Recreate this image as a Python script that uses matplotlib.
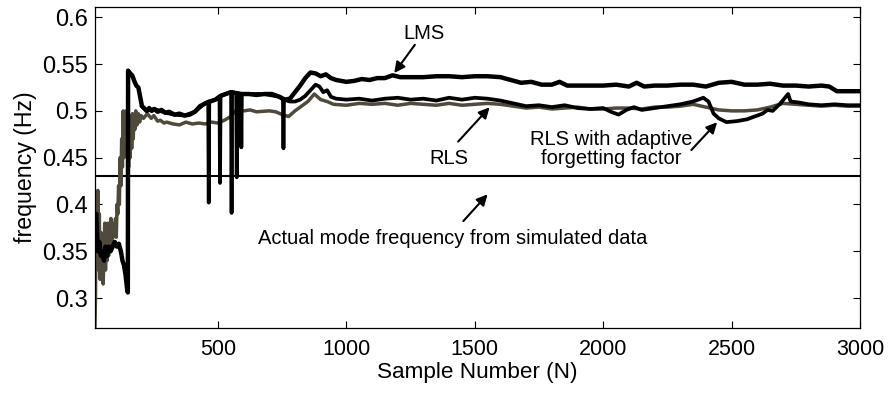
#!/usr/bin/env python3
"""Frequency estimates (LMS, RLS, RLS with adaptive forgetting) vs sample number."""

import matplotlib

matplotlib.use("Agg")
import matplotlib.pyplot as plt

plt.rcParams["font.family"] = ["Liberation Sans", "DejaVu Sans"]

# RLS estimate (grey trace)
rls_x = [21, 23, 26, 29, 32, 35, 38, 41, 44, 47, 50, 53, 56, 59, 62, 65, 68,
         71, 74, 77, 80, 83, 86, 89, 92, 95, 98, 101, 104, 107, 110, 113, 116,
         119, 122, 125, 128, 131, 134, 137, 140, 143, 146, 149, 152, 155, 158,
         161, 164, 167, 170, 173, 176, 180, 185, 190, 195, 200, 210, 225, 240,
         250, 265, 275, 290, 300, 325, 350, 375, 400, 425, 450, 475, 500, 525,
         550, 575, 600, 625, 650, 700, 725, 750, 775, 800, 825, 850, 875, 900,
         925, 950, 1000, 1050, 1100, 1150, 1200, 1250, 1300, 1350, 1400, 1450,
         1500, 1550, 1600, 1650, 1700, 1750, 1800, 1850, 1900, 1950, 2000, 2050,
         2100, 2150, 2200, 2250, 2300, 2350, 2400, 2450, 2500, 2550, 2600, 2650,
         2700, 2750, 2800, 2850, 2900, 2950, 3000]
rls_y = [0.270, 0.300, 0.410, 0.340, 0.415, 0.330, 0.390, 0.320, 0.370, 0.335,
         0.360, 0.315, 0.350, 0.380, 0.330, 0.370, 0.340, 0.380, 0.345, 0.375,
         0.355, 0.385, 0.360, 0.380, 0.365, 0.375, 0.370, 0.385, 0.365, 0.400,
         0.390, 0.420, 0.400, 0.450, 0.420, 0.470, 0.440, 0.500, 0.450, 0.490,
         0.455, 0.500, 0.460, 0.480, 0.440, 0.495, 0.450, 0.490, 0.460, 0.497,
         0.470, 0.495, 0.480, 0.500, 0.485, 0.497, 0.488, 0.495, 0.492, 0.497,
         0.492, 0.495, 0.489, 0.490, 0.487, 0.488, 0.486, 0.485, 0.488, 0.486,
         0.487, 0.486, 0.488, 0.487, 0.490, 0.494, 0.502, 0.500, 0.501, 0.499,
         0.500, 0.499, 0.496, 0.494, 0.500, 0.505, 0.510, 0.518, 0.512, 0.510,
         0.507, 0.506, 0.508, 0.507, 0.508, 0.506, 0.508, 0.507, 0.506, 0.508,
         0.506, 0.507, 0.508, 0.507, 0.505, 0.503, 0.504, 0.502, 0.503, 0.504,
         0.502, 0.502, 0.503, 0.503, 0.502, 0.504, 0.504, 0.505, 0.507, 0.504,
         0.501, 0.500, 0.500, 0.501, 0.504, 0.508, 0.507, 0.506, 0.505, 0.506,
         0.505, 0.505]

# LMS estimate (top black trace)
lms_x = [21, 26, 32, 38, 44, 50, 56, 62, 68, 75, 82, 90, 98, 106, 114, 122, 128,
         134, 140, 146, 149, 150, 158, 166, 174, 182, 190, 197, 204, 212, 222,
         232, 242, 252, 265, 280, 295, 310, 330, 350, 370, 390, 410, 430, 450,
         470, 490, 510, 530, 550, 570, 590, 620, 650, 680, 710, 740, 760, 780,
         800, 820, 840, 860, 880, 900, 920, 940, 960, 980, 1000, 1030, 1060,
         1090, 1120, 1150, 1180, 1210, 1250, 1300, 1350, 1400, 1450, 1500, 1550,
         1600, 1640, 1680, 1720, 1760, 1800, 1830, 1860, 1900, 1950, 2000, 2050,
         2100, 2130, 2160, 2200, 2250, 2300, 2350, 2400, 2450, 2500, 2550, 2600,
         2650, 2700, 2750, 2800, 2850, 2880, 2910, 2950, 3000]
lms_y = [0.385, 0.390, 0.350, 0.360, 0.345, 0.350, 0.340, 0.355, 0.345, 0.355,
         0.350, 0.355, 0.360, 0.355, 0.358, 0.350, 0.340, 0.335, 0.325, 0.310,
         0.306, 0.543, 0.540, 0.538, 0.532, 0.527, 0.525, 0.515, 0.505, 0.503,
         0.500, 0.503, 0.500, 0.502, 0.499, 0.501, 0.498, 0.499, 0.496, 0.497,
         0.495, 0.496, 0.499, 0.505, 0.508, 0.510, 0.512, 0.516, 0.518, 0.520,
         0.519, 0.518, 0.518, 0.517, 0.518, 0.518, 0.515, 0.512, 0.513, 0.520,
         0.527, 0.535, 0.541, 0.540, 0.537, 0.539, 0.535, 0.533, 0.532, 0.531,
         0.532, 0.534, 0.533, 0.535, 0.535, 0.538, 0.536, 0.536, 0.536, 0.537,
         0.537, 0.536, 0.537, 0.537, 0.536, 0.533, 0.530, 0.531, 0.528, 0.528,
         0.531, 0.527, 0.527, 0.527, 0.527, 0.528, 0.526, 0.530, 0.526, 0.527,
         0.527, 0.528, 0.528, 0.526, 0.530, 0.531, 0.528, 0.528, 0.529, 0.527,
         0.527, 0.526, 0.527, 0.526, 0.521, 0.521, 0.521]

# RLS with adaptive forgetting factor (lower black trace, with drop-outs)
arls_x = [204, 222, 252, 295, 330, 370, 410, 440, 462, 464, 466, 490, 506, 508,
          510, 530, 551, 553, 555, 571, 573, 575, 589, 591, 593, 620, 680, 740,
          753, 755, 757, 780, 800, 820, 840, 860, 880, 895, 910, 925, 940, 960,
          1000, 1050, 1100, 1150, 1200, 1250, 1300, 1350, 1400, 1450, 1500, 1550,
          1600, 1650, 1700, 1750, 1800, 1850, 1900, 1950, 2000, 2030, 2060, 2090,
          2120, 2150, 2200, 2250, 2300, 2350, 2390, 2410, 2430, 2450, 2480, 2520,
          2560, 2590, 2620, 2640, 2660, 2690, 2720, 2730, 2760, 2800, 2850, 2900,
          2950, 3000]
arls_y = [0.505, 0.500, 0.502, 0.498, 0.496, 0.495, 0.499, 0.506, 0.510, 0.402,
          0.510, 0.512, 0.515, 0.423, 0.516, 0.518, 0.520, 0.391, 0.520, 0.519,
          0.429, 0.519, 0.518, 0.461, 0.518, 0.518, 0.518, 0.515, 0.512, 0.460,
          0.512, 0.510, 0.510, 0.512, 0.516, 0.522, 0.528, 0.526, 0.520, 0.522,
          0.515, 0.513, 0.512, 0.513, 0.511, 0.513, 0.514, 0.512, 0.513, 0.511,
          0.514, 0.512, 0.514, 0.513, 0.511, 0.508, 0.505, 0.506, 0.504, 0.506,
          0.503, 0.502, 0.503, 0.499, 0.496, 0.501, 0.504, 0.501, 0.503, 0.505,
          0.507, 0.510, 0.514, 0.510, 0.497, 0.492, 0.488, 0.489, 0.491, 0.494,
          0.497, 0.501, 0.500, 0.508, 0.518, 0.510, 0.509, 0.507, 0.506, 0.507,
          0.506, 0.506]

actual_freq = 0.43

x_ticks = [500, 1000, 1500, 2000, 2500, 3000]
y_ticks = [0.3, 0.35, 0.4, 0.45, 0.5, 0.55, 0.6]
y_tick_labels = ["0.3", "0.35", "0.4", "0.45", "0.5", "0.55", "0.6"]

fig = plt.figure(figsize=(8.9, 3.94), dpi=100)
ax = fig.add_axes([0.1067, 0.1675, 0.8596, 0.8148])

ax.plot(rls_x, rls_y, color="#4f4a3c", linewidth=2.5, zorder=2)
ax.plot(arls_x, arls_y, color="black", linewidth=2.7, zorder=3)
ax.plot(lms_x, lms_y, color="black", linewidth=3.2, zorder=4)
ax.axhline(actual_freq, color="black", linewidth=1.5, zorder=1)

ax.set_xlim(21, 3000)
ax.set_ylim(0.268, 0.611)
ax.set_xticks(x_ticks)
ax.set_yticks(y_ticks, y_tick_labels)
ax.tick_params(direction="in", top=True, right=True, length=5, width=0.8)
ax.tick_params(axis="x", labelsize=15.5, pad=8)
ax.tick_params(axis="y", labelsize=17, pad=5)
for spine in ax.spines.values():
    spine.set_linewidth(0.9)

ax.set_xlabel("Sample Number (N)", fontsize=16.2, labelpad=1)
ax.set_ylabel("frequency (Hz)", fontsize=16.7, labelpad=4)

arrow = dict(arrowstyle="-|>", color="black", lw=1.5, mutation_scale=16)
ax.annotate("", xy=(1180, 0.538), xytext=(1273, 0.573), arrowprops=arrow)
ax.text(1304, 0.583, "LMS", fontsize=14.5, ha="center", va="center")

ax.annotate("", xy=(1565, 0.506), xytext=(1428, 0.465), arrowprops=arrow)
ax.text(1401, 0.449, "RLS", fontsize=14.5, ha="center", va="center")

ax.annotate("", xy=(2451, 0.490), xytext=(2336, 0.456), arrowprops=arrow)
ax.text(2031, 0.459, "RLS with adaptive\nforgetting factor", fontsize=14.5,
        ha="center", va="center", linespacing=1.0)

ax.annotate("", xy=(1557, 0.413), xytext=(1448, 0.380), arrowprops=arrow)
ax.text(1413, 0.364, "Actual mode frequency from simulated data", fontsize=14.5,
        ha="center", va="center")

fig.savefig("out.png", dpi=100)
